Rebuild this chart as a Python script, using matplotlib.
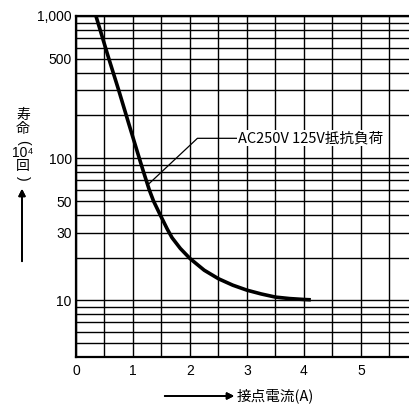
import matplotlib.pyplot as plt
from matplotlib.ticker import FixedLocator, LogLocator, MultipleLocator, NullFormatter

# contact current (A) vs. life (x10^4 operations), AC250V/125V resistive load
current = [0.35, 0.57, 0.75, 0.92, 1.11, 1.185, 1.285, 1.36, 1.47, 1.6, 1.685,
           1.83, 2.0, 2.25, 2.5, 2.75, 3.0, 3.25, 3.5, 3.75, 4.0, 4.12]
life = [1000, 510, 300, 178, 100, 80, 60, 50, 40.5, 31.8, 27.6,
        23.2, 19.7, 16.3, 14.2, 12.8, 11.8, 11.1, 10.55, 10.3, 10.15, 10.1]

y_ticks = [10, 30, 50, 100, 500, 1000]
y_tick_labels = ['10', '30', '50', '100', '500', '1,000']
x_ticks = [0, 1, 2, 3, 4, 5]
x_tick_labels = ['0', '1', '2', '3', '4', '5']

series_label = 'AC250V 125V抵抗負荷'
leader_x = [1.26, 2.13, 2.85]
leader_y = [65, 138, 138]

CJK = ['Noto Sans CJK JP', 'DejaVu Sans']
NUM = ['Liberation Sans', 'DejaVu Sans']

W, H = 410, 405


def fpos(x, y):
    # pixel position -> figure fraction
    return x / W, 1 - y / H


fig = plt.figure(figsize=(W / 100, H / 100), dpi=100)
ax = fig.add_axes([76 / W, 48 / H, 342 / W, 341 / H])

ax.plot(current, life, color='k', lw=2.6, solid_capstyle='butt',
        solid_joinstyle='round', zorder=4)
ax.plot(leader_x, leader_y, color='k', lw=0.9, zorder=4)
ax.text(leader_x[-1], leader_y[-1], series_label, family=CJK, fontsize=10.5,
        ha='left', va='center', zorder=5,
        bbox=dict(facecolor='white', edgecolor='none', pad=0.8))

ax.set_yscale('log')
ax.set_ylim(4, 1000)
ax.set_xlim(0, 6)

ax.yaxis.set_major_locator(FixedLocator(y_ticks))
ax.yaxis.set_minor_locator(LogLocator(base=10, subs=range(2, 10)))
ax.yaxis.set_minor_formatter(NullFormatter())
ax.set_yticklabels(y_tick_labels, family=NUM, fontsize=10)

ax.xaxis.set_major_locator(FixedLocator(x_ticks))
ax.xaxis.set_minor_locator(MultipleLocator(0.5))
ax.set_xticklabels(x_tick_labels, family=NUM, fontsize=10)

ax.tick_params(which='both', length=0)
ax.tick_params(axis='y', pad=3)
ax.tick_params(axis='x', pad=5)

ax.grid(which='both', color='k', lw=1.0)
ax.set_axisbelow(True)
for side in ['left', 'bottom', 'top']:
    ax.spines[side].set_linewidth(1.6)
ax.spines['right'].set_visible(False)

# vertical y-axis title: 寿命 (10⁴回) written top to bottom
fig.text(*fpos(23, 122), '寿\n命', family=CJK, fontsize=10, ha='center', va='center',
         linespacing=0.95)
fig.text(*fpos(23, 142), '(', family=NUM, fontsize=10, ha='center', va='center', rotation=-90)
fig.text(*fpos(23, 153), '10⁴', family=NUM, fontsize=10, ha='center', va='center')
fig.text(*fpos(23, 166), '回', family=CJK, fontsize=10, ha='center', va='center')
fig.text(*fpos(23, 178), ')', family=NUM, fontsize=10, ha='center', va='center', rotation=-90)
fig.add_artist(plt.annotate('', xy=fpos(22, 186), xytext=fpos(22, 264),
                            xycoords='figure fraction', textcoords='figure fraction',
                            arrowprops=dict(arrowstyle='-|>', color='k', lw=1.3,
                                            mutation_scale=10)))

# x-axis title
fig.text(*fpos(237, 396), '接点電流(A)', family=CJK, fontsize=10.5, ha='left', va='center')
fig.add_artist(plt.annotate('', xy=fpos(237, 396), xytext=fpos(162, 396),
                            xycoords='figure fraction', textcoords='figure fraction',
                            arrowprops=dict(arrowstyle='-|>', color='k', lw=1.3,
                                            mutation_scale=10)))

fig.savefig('out.png', dpi=100)
